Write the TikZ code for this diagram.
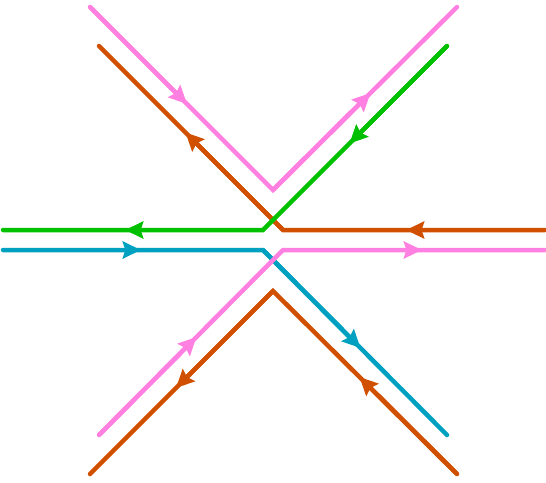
\documentclass[tikz,border=0pt]{standalone}
\usepackage{xcolor}
\usepackage{tikz}
\usetikzlibrary{arrows.meta,calc}

\definecolor{pinkwire}{RGB}{255,128,224}
\definecolor{orangewire}{RGB}{208,80,0}
\definecolor{greenwire}{RGB}{0,192,0}
\definecolor{bluewire}{RGB}{0,160,192}

\begin{document}
\begin{tikzpicture}[x=1pt,y=-1pt,
  wire/.style={line width=4.5pt,line cap=round},
  midtip/.style={line width=4.5pt,-{Stealth[length=18pt,width=17pt,inset=2.5pt]}}]
  \useasboundingbox (0,0) rectangle (546,482);
  % upper pink
  \coordinate (p1) at (90,7);
  \coordinate (p2) at (273,190);
  \coordinate (p3) at (457,7);
  % upper orange
  \coordinate (o1) at (545,230);
  \coordinate (o2) at (283,230);
  \coordinate (o3) at (99,46);
  % green
  \coordinate (g1) at (447,46);
  \coordinate (g2) at (263,230);
  \coordinate (g3) at (3,230);
  % blue
  \coordinate (b1) at (3,250);
  \coordinate (b2) at (263,250);
  \coordinate (b3) at (447,435);
  % lower pink
  \coordinate (q1) at (99,435);
  \coordinate (q2) at (283,250);
  \coordinate (q3) at (545,250);
  % lower orange
  \coordinate (r1) at (457,474);
  \coordinate (r2) at (273,291);
  \coordinate (r3) at (90,474);

  \draw[wire,color=pinkwire] (p1) -- (p2) -- (p3);
  \draw[midtip,color=pinkwire] (p1) -- ($(p1)!0.53!(p2)$);
  \draw[midtip,color=pinkwire] (p2) -- ($(p2)!0.53!(p3)$);
  \draw[wire,color=orangewire] (o1) -- (o2) -- (o3);
  \draw[midtip,color=orangewire] (o1) -- ($(o1)!0.53!(o2)$);
  \draw[midtip,color=orangewire] (o2) -- ($(o2)!0.53!(o3)$);
  \draw[wire,color=greenwire] (g1) -- (g2) -- (g3);
  \draw[midtip,color=greenwire] (g1) -- ($(g1)!0.53!(g2)$);
  \draw[midtip,color=greenwire] (g2) -- ($(g2)!0.53!(g3)$);
  \draw[wire,color=bluewire] (b1) -- (b2) -- (b3);
  \draw[midtip,color=bluewire] (b1) -- ($(b1)!0.53!(b2)$);
  \draw[midtip,color=bluewire] (b2) -- ($(b2)!0.53!(b3)$);
  \draw[wire,color=pinkwire] (q1) -- (q2) -- (q3);
  \draw[midtip,color=pinkwire] (q1) -- ($(q1)!0.53!(q2)$);
  \draw[midtip,color=pinkwire] (q2) -- ($(q2)!0.53!(q3)$);
  \draw[wire,color=orangewire] (r1) -- (r2) -- (r3);
  \draw[midtip,color=orangewire] (r1) -- ($(r1)!0.53!(r2)$);
  \draw[midtip,color=orangewire] (r2) -- ($(r2)!0.53!(r3)$);
\end{tikzpicture}
\end{document}
